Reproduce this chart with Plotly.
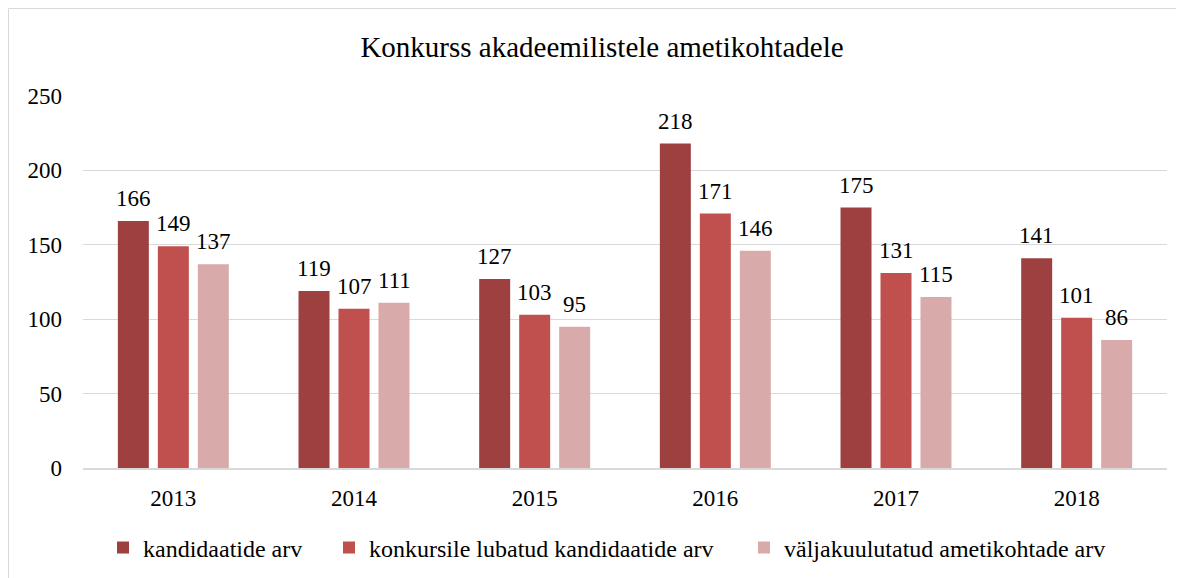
import plotly.graph_objects as go

years = ["2013", "2014", "2015", "2016", "2017", "2018"]
kandidaatide = [166, 119, 127, 218, 175, 141]
lubatud = [149, 107, 103, 171, 131, 101]
valjakuulutatud = [137, 111, 95, 146, 115, 86]

series_names = ["kandidaatide arv", "konkursile lubatud kandidaatide arv", "väljakuulutatud ametikohtade arv"]
series_colors = ["#9E4040", "#C0504D", "#D9AAAA"]
series_values = [kandidaatide, lubatud, valjakuulutatud]
legend_ids = ["legend", "legend2", "legend3"]

FONT = "Liberation Serif"

# page body has an 8px margin; figure coords are offset by 8
W, H = 1176, 570
L, R, T, B = 75, 17, 88, 110
pw, ph = W - L - R, H - T - B
slot_px = 40

fig = go.Figure()
annotations = []
for i, (name, color, vals) in enumerate(zip(series_names, series_colors, series_values)):
    fig.add_trace(go.Bar(
        x=years, y=vals, name=name, legend=legend_ids[i],
        marker=dict(color=color, line=dict(width=0)),
        cliponaxis=False,
    ))
    for j, v in enumerate(vals):
        annotations.append(dict(
            x=j, y=v, xref="x", yref="y", text=str(v), showarrow=False,
            xshift=(i - 1) * slot_px, yanchor="bottom", yshift=8,
            font=dict(family=FONT, size=23, color="#000000"),
        ))

# legend text starts (figure px)
legend_text_x = [131, 357, 772]
legend_common = dict(orientation="h", xanchor="left", yanchor="middle",
                     xref="container", yref="container",
                     y=1 - 540 / H,
                     font=dict(family=FONT, size=24, color="#000000"),
                     bgcolor="rgba(0,0,0,0)", itemclick=False, itemdoubleclick=False)
legends = {}
for lid, tx in zip(legend_ids, legend_text_x):
    legends[lid] = dict(legend_common, x=(tx - 36) / W)

fig.update_layout(
    width=W, height=H,
    margin=dict(l=L, r=R, t=T, b=B),
    paper_bgcolor="white", plot_bgcolor="white",
    barmode="group", bargap=0.336, bargroupgap=0.225,
    font=dict(family=FONT, size=23, color="#000000"),
    title=dict(text="Konkurss akadeemilistele ametikohtadele",
               x=594 / W, xanchor="center", y=1 - 39 / H, yanchor="middle",
               font=dict(family=FONT, size=29, color="#000000")),
    showlegend=True,
    annotations=annotations,
    shapes=[
        dict(type="line", xref="paper", yref="paper",
             x0=(0.5 - L) / pw, x1=(0.5 - L) / pw, y0=-2.0, y1=(ph + T - 0.5) / ph,
             line=dict(color="#D9D9D9", width=1)),
        dict(type="line", xref="paper", yref="paper",
             x0=(0.5 - L) / pw, x1=2.0, y0=(ph + T - 0.5) / ph, y1=(ph + T - 0.5) / ph,
             line=dict(color="#D9D9D9", width=1)),
    ],
    **legends,
)
fig.update_xaxes(type="category", range=[-0.5, len(years) - 0.5], showgrid=False, showline=True,
                 linecolor="#D9D9D9", linewidth=1.5, ticklabelstandoff=9,
                 ticks="", tickfont=dict(family=FONT, size=23, color="#000000"))
fig.update_yaxes(range=[0, 250], dtick=50, showgrid=True, gridcolor="#D9D9D9", gridwidth=1,
                 zeroline=False, showline=False, ticks="",
                 tickfont=dict(family=FONT, size=23, color="#000000"), ticklabelstandoff=20)

fig.write_html("out.html")
